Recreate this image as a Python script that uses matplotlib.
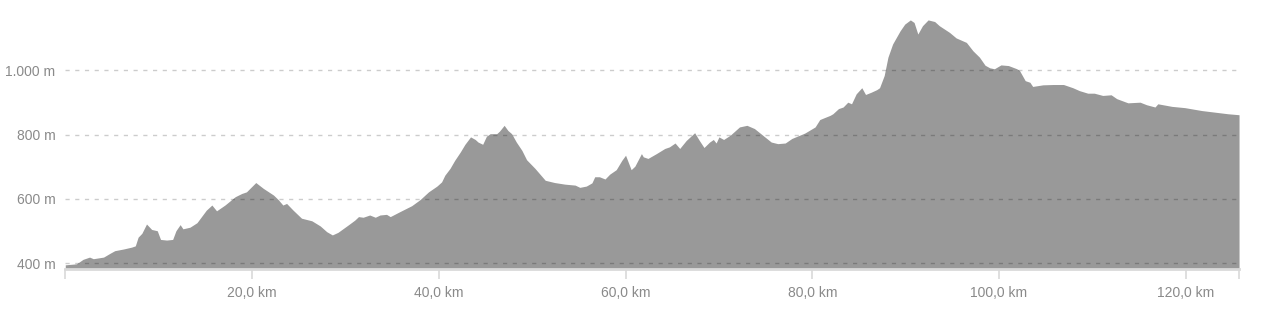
import matplotlib
matplotlib.use("Agg")
import matplotlib.pyplot as plt

# elevation profile (distance in km, elevation in m)
dist_km = [0.0, 1.2, 1.9, 2.6, 3.0, 4.1, 4.8, 5.3, 6.2, 7.1, 7.5, 7.8, 8.2, 8.7, 9.25,
           9.85, 10.2, 10.85, 11.5, 11.85, 12.3, 12.6, 13.35, 14.1, 15.1, 15.7, 16.2,
           17.1, 18.2, 18.9, 19.4, 20.4, 21.2, 22.3, 22.8, 23.3, 23.7, 24.4, 25.3, 26.4,
           27.3, 28.0, 28.6, 29.2, 30.3, 31.0, 31.4, 31.9, 32.6, 33.2, 33.7, 34.4, 34.8,
           35.8, 37.1, 38.0, 38.9, 39.8, 40.3, 40.65, 41.2, 41.7, 42.3, 42.8, 43.4, 43.9,
           44.2, 44.7, 45.1, 45.5, 46.2, 46.5, 47.0, 47.4, 47.8, 48.3, 48.9, 49.4, 50.3,
           51.4, 52.4, 53.5, 54.6, 55.1, 55.8, 56.4, 56.7, 57.2, 57.8, 58.3, 59.0, 59.6,
           60.0, 60.6, 61.0, 61.7, 61.9, 62.4, 63.3, 64.2, 64.7, 65.3, 65.8, 66.5, 67.4,
           67.9, 68.4, 69.0, 69.4, 69.7, 70.0, 70.5, 71.2, 72.2, 73.0, 73.8, 74.7, 75.6,
           76.3, 77.1, 77.8, 79.2, 80.3, 80.8, 81.3, 81.9, 82.2, 82.8, 83.3, 83.8, 84.2,
           84.7, 85.3, 85.7, 86.3, 86.9, 87.2, 87.7, 88.1, 88.6, 89.4, 89.9, 90.5, 90.9,
           91.3, 91.8, 92.4, 93.1, 93.6, 94.7, 95.4, 96.5, 97.2, 97.9, 98.5, 99.0, 99.5,
           100.2, 101.0, 101.9, 102.2, 102.8, 103.3, 103.6, 104.7, 105.8, 106.9, 107.9,
           108.6, 109.5, 110.2, 111.1, 112.0, 112.6, 113.8, 115.1, 115.8, 116.7, 117.0,
           118.5, 119.9, 121.7, 123.1, 124.5, 125.7]
elev_m = [395, 398, 412, 419, 414, 419, 431, 439, 444, 450, 454, 481, 493, 522, 505,
          501, 474, 472, 474, 501, 520, 507, 512, 526, 565, 581, 563,
          581, 607, 617, 622, 651, 633, 612, 598, 581, 586, 565, 540, 532,
          516, 498, 488, 496, 519, 534, 545, 543, 550, 543, 550, 552, 545,
          560, 579, 598, 622, 640, 653, 674, 695, 720, 746, 770, 793, 785,
          777, 770, 795, 803, 803, 811, 829, 813, 803, 777, 751, 722, 695,
          658, 651, 646, 643, 636, 640, 650, 669, 669, 662, 677, 691, 720,
          736, 691, 702, 741, 731, 726, 741, 757, 762, 774, 757, 782, 806,
          782, 760, 777, 785, 774, 793, 785, 798, 824, 829, 819, 798, 777,
          772, 774, 788, 805, 824, 847, 853, 860, 865, 881, 886, 901, 896,
          927, 946, 925, 932, 940, 946, 984, 1041, 1082, 1123, 1144, 1157, 1149,
          1113, 1139, 1157, 1152, 1139, 1118, 1101, 1087, 1061, 1041, 1016, 1008, 1005,
          1017, 1015, 1005, 999, 968, 963, 950, 955, 956, 956, 946,
          937, 929, 929, 922, 924, 912, 899, 901, 893, 886, 896,
          888, 884, 875, 870, 865, 862]

y_ticks = [400, 600, 800, 1000]
y_labels = ["400 m", "600 m", "800 m", "1.000 m"]
x_ticks = [0, 20, 40, 60, 80, 100, 120, 125.7]
x_labels = ["", "20,0 km", "40,0 km", "60,0 km", "80,0 km", "100,0 km", "120,0 km", ""]

plt.rcParams["font.family"] = ["Liberation Sans", "DejaVu Sans"]

fig = plt.figure(figsize=(12.8, 3.21), dpi=100)
ax = fig.add_axes([0.051, 0.161, 0.917, 0.81])

ax.fill_between(dist_km, elev_m, 381, color="#999999", linewidth=0, zorder=1)

for yv in y_ticks:
    ax.axhline(yv, color=(0, 0, 0, 0.2), linewidth=1, linestyle=(0, (3, 4)), zorder=2)

ax.set_xlim(0, 125.7)
ax.set_ylim(381, 1190)

ax.set_yticks(y_ticks)
ax.set_yticklabels(y_labels)
ax.set_xticks(x_ticks)
ax.set_xticklabels(x_labels)

for s in ["top", "right", "left"]:
    ax.spines[s].set_visible(False)
ax.spines["bottom"].set_color("#d9d9d9")
ax.spines["bottom"].set_linewidth(2)

ax.tick_params(axis="y", length=0, pad=7, labelsize=10, labelcolor="#8a8a8a")
ax.tick_params(axis="x", length=7, width=1.2, color="#d9d9d9", pad=5,
               labelsize=10, labelcolor="#8a8a8a")

fig.savefig("out.png", dpi=100)
